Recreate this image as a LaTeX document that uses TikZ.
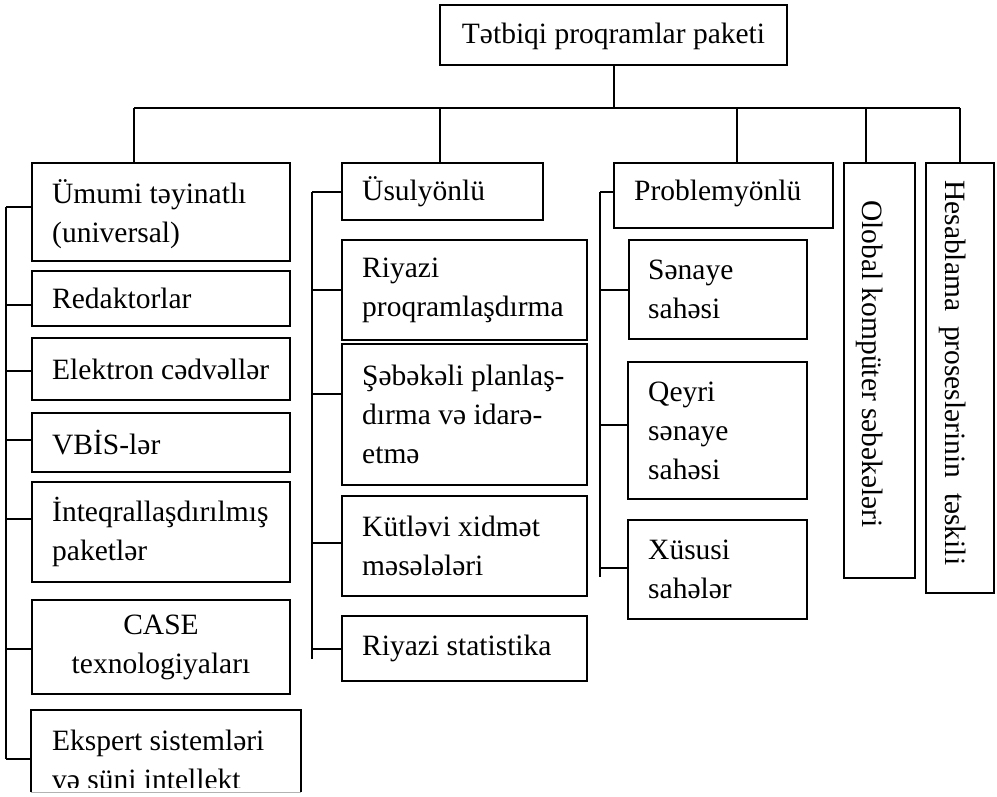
\documentclass[tikz,border=0pt]{standalone}
\usepackage{fontspec}
\setmainfont{Liberation Serif}
\begin{document}
\begin{tikzpicture}[x=1pt,y=-1pt,
  line/.style={line width=2pt},
  box/.style={draw, line width=2pt, inner sep=0pt, anchor=north west},
  txt/.style={font=\fontsize{29.5}{39}\selectfont, inner sep=0pt, align=left, anchor=west},
]
\clip (0,0) rectangle (997,796);
% top
\node[box, minimum width=347pt, minimum height=60pt] (top) at (439,4) {};
\node[txt, anchor=center] (topt) at ([yshift=-1pt]top.center) {Tətbiqi proqramlar paketi};
% left column
\node[box, minimum width=258pt, minimum height=98pt] (u1) at (31,162) {};
\node[txt] (u1t) at ([xshift=21pt,yshift=-2pt]u1.west) {Ümumi təyinatlı\\(universal)};
\node[box, minimum width=258pt, minimum height=55pt] (u2) at (31,270) {};
\node[txt] (u2t) at ([xshift=21pt]u2.west) {Redaktorlar};
\node[box, minimum width=258pt, minimum height=62pt] (u3) at (31,337) {};
\node[txt] (u3t) at ([xshift=21pt]u3.west) {Elektron cədvəllər};
\node[box, minimum width=258pt, minimum height=59pt] (u4) at (31,412) {};
\node[txt] (u4t) at ([xshift=21pt]u4.west) {VBİS-lər};
\node[box, minimum width=258pt, minimum height=100pt] (u5) at (31,481) {};
\node[txt] (u5t) at ([xshift=21pt]u5.west) {İnteqrallaşdırılmış\\paketlər};
\node[box, minimum width=258pt, minimum height=94pt] (u6) at (31,599) {};
\node[txt, align=center, anchor=center] (u6t) at (u6.center) {CASE\\texnologiyaları};
\node[box, draw=none, minimum width=268pt, minimum height=80pt] (u7) at (31,710) {};
\draw[line] (u7.south west) -- (u7.north west) -- (u7.north east) -- (u7.south east);
\draw[gray!60, line width=0.8pt] (u7.south west) -- (u7.south east);
\begin{scope}
\clip (0,0) rectangle (997,787);
\node[txt, anchor=north west] (u7t) at ([xshift=21pt, yshift=-20pt]u7.north west) {Ekspert sistemləri\\və süni intellekt};
\end{scope}
% middle column
\node[box, minimum width=201pt, minimum height=57pt] (m1) at (341,162) {};
\node[txt] (m1t) at ([xshift=21pt]m1.west) {Üsulyönlü};
\node[box, minimum width=245pt, minimum height=100pt] (m2) at (341,239) {};
\node[txt] (m2t) at ([xshift=21pt]m2.west) {Riyazi\\proqramlaşdırma};
\node[box, minimum width=245pt, minimum height=141pt] (m3) at (341,343) {};
\node[txt] (m3t) at ([xshift=21pt]m3.west) {Şəbəkəli planlaş-\\dırma və idarə-\\etmə};
\node[box, minimum width=245pt, minimum height=100pt] (m4) at (341,495) {};
\node[txt] (m4t) at ([xshift=21pt]m4.west) {Kütləvi xidmət\\məsələləri};
\node[box, minimum width=245pt, minimum height=65pt] (m5) at (341,615) {};
\node[txt] (m5t) at ([xshift=21pt]m5.west) {Riyazi statistika};
% right column
\node[box, minimum width=219pt, minimum height=65pt] (r1) at (613,162) {};
\node[txt] (r1t) at ([xshift=21pt,yshift=2pt]r1.west) {Problemyönlü};
\node[box, minimum width=178pt, minimum height=99pt] (r2) at (628,239) {};
\node[txt] (r2t) at ([xshift=20pt]r2.west) {Sənaye\\sahəsi};
\node[box, minimum width=179pt, minimum height=137pt] (r3) at (627,361) {};
\node[txt] (r3t) at ([xshift=21pt]r3.west) {Qeyri\\sənaye\\sahəsi};
\node[box, minimum width=179pt, minimum height=99pt] (r4) at (627,519) {};
\node[txt] (r4t) at ([xshift=21pt]r4.west) {Xüsusi\\sahələr};
% vertical boxes
\node[box, minimum width=71pt, minimum height=415pt] (o) at (843,162) {};
\node[txt, rotate=-90, anchor=base west] (ot) at (862,200) {Olobal kompüter səbəkələri};
\node[box, minimum width=68pt, minimum height=430pt] (h) at (925,162) {};
\node[txt, rotate=-90, anchor=base west] (ht) at (945,180) {Hesablama\ \ proseslərinin\ \ təskili};
% bus
\coordinate (bus) at (0,108);
\coordinate (d1) at ([xshift=-27pt]u1.north);
\coordinate (d2) at ([xshift=-2.5pt]m1.north);
\coordinate (d3) at ([xshift=13.5pt]r1.north);
\coordinate (d4) at ([xshift=-13.5pt]o.north);
\coordinate (d5) at (h.north);
\draw[line] (top.south) -- (top.south |- bus);
\draw[line] (d1 |- bus) -- (d5 |- bus);
\foreach \d in {d1,d2,d3,d4,d5} \draw[line] (\d) -- (\d |- bus);
% left spine
\coordinate (ls) at (6,0);
\foreach \n/\s in {u1/5,u2/-6.5,u3/-2,u4/2.5,u5/13,u6/-2,u7/-8}{
  \coordinate (s\n) at ([yshift=\s pt]\n.west);
  \draw[line] (s\n) -- (s\n -| ls);
}
\draw[line] (su1 -| ls) -- (su7 -| ls);
% middle spine
\coordinate (ms) at (312,0);
\foreach \n/\s in {m1/-0.5,m2/0,m3/20.5,m4/3,m5/-0.5}{
  \coordinate (s\n) at ([yshift=\s pt]\n.west);
  \draw[line] (s\n) -- (s\n -| ms);
}
\coordinate (mend) at ([yshift=-10pt]sm5);
\draw[line] (sm1 -| ms) -- (mend -| ms);
% right spine
\coordinate (rs) at (600,0);
\foreach \n/\s in {r1/3.5,r2/-0.5,r3/5.5,r4/1.5}{
  \coordinate (s\n) at ([yshift=\s pt]\n.west);
  \draw[line] (s\n) -- (s\n -| rs);
}
\coordinate (rend) at ([yshift=-9pt]sr4);
\draw[line] (sr1 -| rs) -- (rend -| rs);
\end{tikzpicture}
\end{document}
